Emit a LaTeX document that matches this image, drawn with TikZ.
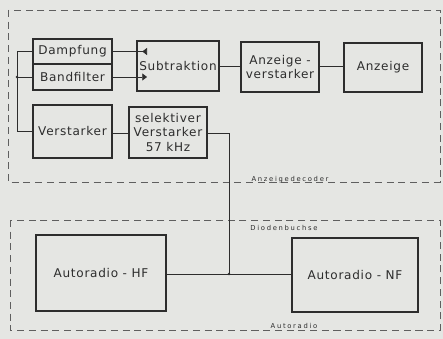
\documentclass[tikz,border=0pt]{standalone}
\usepackage{fontspec}
\usepackage{tikz}
\usetikzlibrary{arrows.meta, positioning, calc}
\newfontfamily\dinfont[LetterSpace=6]{DejaVu Sans}
\newfontfamily\dinsmall[LetterSpace=25]{DejaVu Sans}
\definecolor{paper}{RGB}{229,230,227}
\definecolor{ink}{RGB}{45,45,45}
\definecolor{dashink}{RGB}{95,95,95}
\newlength{\px}
\setlength{\px}{0.03cm}
\tikzset{
  block/.style={rectangle, draw=ink, line width=0.9pt, inner sep=0pt,
    align=center, font=\dinfont\fontsize{10.3}{12.5}\selectfont, text=ink},
  sig/.style={draw=ink, line width=0.6pt},
  frame/.style={draw=dashink, line width=0.55pt, dash pattern=on 6pt off 4pt},
  framelabel/.style={font=\dinsmall\fontsize{5.8}{6}\selectfont, text=ink, inner sep=1pt}
}
\begin{document}
\begin{tikzpicture}[x=1\px, y=-1\px]
  % paper
  \fill[paper] (0,0) rectangle (443,339);

  % dashed frames
  \draw[frame] (8,10) rectangle (440,182);
  \draw[frame] (10,220) rectangle (440,330);
  \node[framelabel, anchor=base] (lbldec) at (290,181) {Anzeigedecoder};
  \node[framelabel, anchor=base] (lbldio) at (284,230) {Diodenbuchse};
  \node[framelabel, anchor=base] (lblradio) at (294,328) {Autoradio};

  % Anzeigedecoder blocks
  \node[block, minimum width=79\px, minimum height=25\px] (damp) at (72.5,51.5) {Dampfung};
  \node[block, minimum width=79\px, minimum height=26\px] (band) at (72.5,77) {Bandfilter};
  \node[block, minimum width=82\px, minimum height=50\px] (subtr) at (178,66) {Subtraktion};
  \node[block, minimum width=78\px, minimum height=50\px] (azverst) at (280,67) {Anzeige -\\verstarker};
  \node[block, minimum width=78\px, minimum height=49\px] (anz) at (383,67.5) {Anzeige};
  \node[block, minimum width=79\px, minimum height=53\px] (verst) at (72.5,131.5) {Verstarker};
  \node[block, minimum width=78\px, minimum height=51\px] (selverst) at (168,132.5) {selektiver\\Verstarker\\57 kHz};

  % Autoradio blocks
  \node[block, minimum width=130\px, minimum height=76\px] (hf) at (101,273) {Autoradio - HF};
  \node[block, minimum width=126\px, minimum height=74\px] (nf) at (355,275) {Autoradio - NF};

  % helper points
  \coordinate (bus) at (17,51.5);
  \coordinate (subin) at (147,0);
  \coordinate (tap) at (229,133);

  % connections
  \draw[sig] (damp.west) -- (bus) |- (verst.west);
  \draw[sig] (band.west) -- (band.west -| bus);
  \fill[ink] (band.west -| bus) circle (1.2pt);
  \draw[sig, -{Triangle[reversed, length=4pt, width=6pt]}] (damp.east) -- (damp.east -| subin);
  \draw[sig, -{Triangle[length=4pt, width=6pt]}] (band.east) -- (band.east -| subin);
  \draw[sig] (subtr.east |- 0,66) -- (azverst.west |- 0,66);
  \draw[sig] (azverst.east |- 0,66) -- (anz.west |- 0,66);
  \draw[sig] (verst.east |- 0,133) -- (selverst.west |- 0,133);
  \draw[sig] (selverst.east |- tap) -- (tap) -- (tap |- 0,274);
  \draw[sig] (hf.east |- 0,274) -- (nf.west |- 0,274);
  \fill[ink] (tap |- 0,274) circle (1.2pt);
\end{tikzpicture}
\end{document}
